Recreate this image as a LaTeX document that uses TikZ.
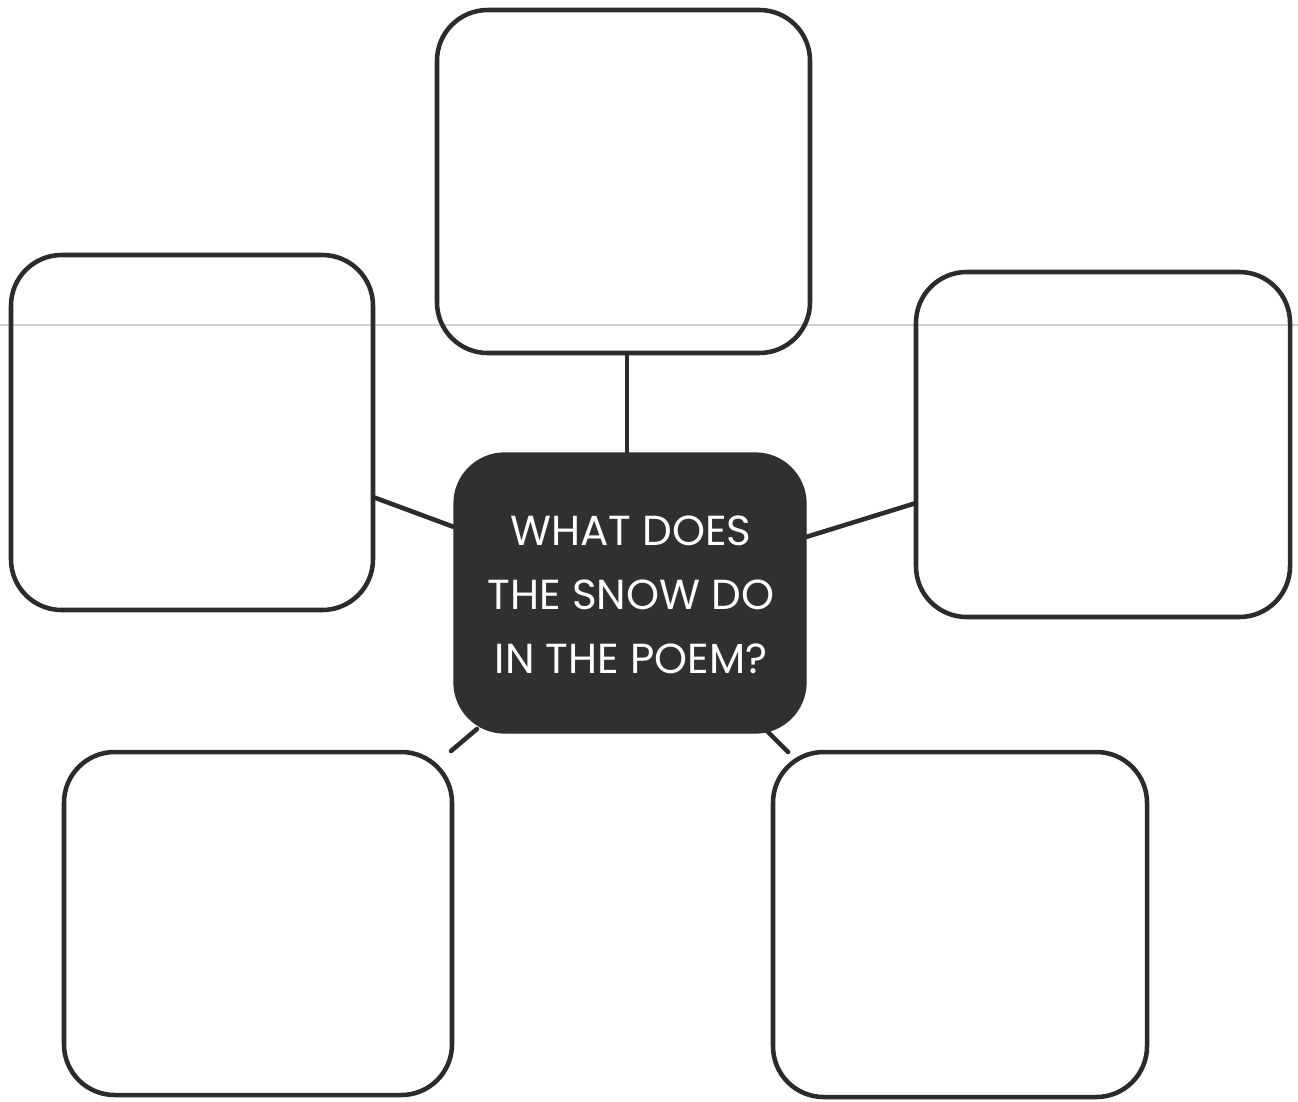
\documentclass[tikz,border=0pt]{standalone}
\usepackage{fontspec}
\setmainfont{Poppins}
\definecolor{ink}{HTML}{2B2B2B}
\definecolor{darkfill}{HTML}{303030}
\begin{document}
\begin{tikzpicture}[x=0.75pt,y=-0.75pt,
  ideabox/.style={draw=ink,line width=3.4pt,rounded corners=38pt},
  centerbox/.style={fill=darkfill,draw=darkfill,line width=1pt,rounded corners=38pt},
  link/.style={draw=ink,line width=3.4pt},
  qtext/.style={text=white,font=\fontsize{31.5}{48}\selectfont,align=center}]
\useasboundingbox (0,0) rectangle (1298,1101);
\fill[white] (0,0) rectangle (1298,1101);
% faint scan line
\draw[gray!35,line width=1pt] (0,325) -- (1298,325);
% boxes
\draw[ideabox] (437,10) rectangle (810,353);
\draw[ideabox] (11,255) rectangle (373,610);
\draw[ideabox] (916,272) rectangle (1290,617);
\draw[ideabox] (64,752) rectangle (452,1095);
\draw[ideabox] (773,752) rectangle (1147,1097);
\draw[centerbox] (454,453) rectangle (806,733);
% anchor coordinates
\coordinate (topB) at (627,353);
\coordinate (topC) at (627,453);
\coordinate (leftB) at (373,497);
\coordinate (leftC) at (454,527);
\coordinate (rightB) at (916,503);
\coordinate (rightC) at (806,537);
\coordinate (blA) at (451,751);
\coordinate (blB) at (477,729);
\coordinate (brA) at (767,731);
\coordinate (brB) at (788,752);
\draw[link] (topB) -- (topC);
\draw[link] (leftB) -- (leftC);
\draw[link] (rightB) -- (rightC);
\draw[link,line cap=round] (blA) -- (blB);
\draw[link,line cap=round] (brA) -- (brB);
\node[qtext] (q) at (631,595) {WHAT DOES\\THE SNOW DO\\IN THE POEM?};
\end{tikzpicture}
\end{document}
